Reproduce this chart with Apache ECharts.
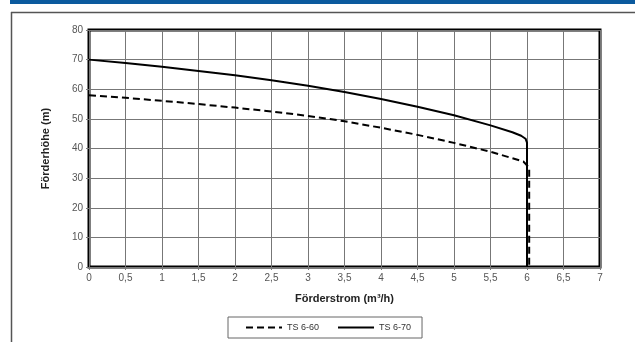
<!DOCTYPE html>
<html>
<head>
<meta charset="utf-8">
<script src="https://cdn.jsdelivr.net/npm/echarts@6/dist/echarts.min.js"></script>
<style>html,body{margin:0;padding:0;background:#fff}#c{width:635px;height:342px}</style>
</head>
<body>
<div id="c"></div>
<script>
const seriesNames = ["TS 6-60", "TS 6-70"];
const ts660X = [0, 0.5, 1, 1.5, 2, 2.5, 3, 3.5, 4, 4.5, 5, 5.5, 5.8, 5.95, 6.03, 6.03];
const ts660Y = [58, 57.1, 56.1, 55.0, 53.8, 52.5, 51.0, 49.2, 47.0, 44.6, 41.9, 38.9, 36.7, 35.6, 33.5, 0];
const ts670X = [0, 0.5, 1, 1.5, 2, 2.5, 3, 3.5, 4, 4.5, 5, 5.5, 5.8, 5.92, 5.98, 6.0, 6.0];
const ts670Y = [70, 68.9, 67.6, 66.2, 64.7, 63.0, 61.2, 59.1, 56.7, 54.1, 51.2, 47.8, 45.5, 44.3, 43.3, 42.0, 0];
const xMin = 0, xMax = 7, xStep = 0.5;
const yMin = 0, yMax = 80, yStep = 10;
const xTitle = "Förderstrom (m³/h)";
const yTitle = "Förderhöhe (m)";

const pairs = (xs, ys) => xs.map((x, i) => [x, ys[i]]);
const font = "'Liberation Sans', Arial, sans-serif";
const chart = echarts.init(document.getElementById('c'), null, {renderer: 'canvas'});
chart.setOption({
  animation: false,
  backgroundColor: '#fff',
  textStyle: {fontFamily: font},
  graphic: [
    {type: 'rect', shape: {x: 10, y: 0, width: 625, height: 4}, style: {fill: '#0b5a9e'}},
    {type: 'line', shape: {x1: 11, y1: 12.5, x2: 635, y2: 12.5}, style: {stroke: '#555', lineWidth: 1.5}},
    {type: 'line', shape: {x1: 11.5, y1: 12, x2: 11.5, y2: 342}, style: {stroke: '#555', lineWidth: 1.5}}
  ],
  grid: {left: 89, right: 35, top: 30, bottom: 75, show: true, borderColor: '#000', borderWidth: 3, backgroundColor: 'transparent'},
  legend: {
    left: 228, top: 317,
    data: seriesNames,
    itemWidth: 36, itemHeight: 10, itemGap: 18,
    padding: [6, 11, 6, 17],
    borderColor: '#666', borderWidth: 1,
    itemStyle: {opacity: 0, borderWidth: 0},
    textStyle: {fontSize: 9, color: '#333', fontFamily: font}
  },
  xAxis: {
    type: 'value', min: xMin, max: xMax, interval: xStep,
    name: xTitle, nameLocation: 'middle', nameGap: 26,
    nameTextStyle: {fontSize: 11, fontWeight: 'bold', color: '#222', fontFamily: font},
    axisLine: {show: false},
    axisTick: {show: true, length: 3, lineStyle: {color: '#777'}},
    axisLabel: {fontSize: 10, color: '#555', margin: 6, formatter: v => String(v).replace('.', ',')},
    splitLine: {show: true, lineStyle: {color: '#777', width: 1}}
  },
  yAxis: {
    type: 'value', min: yMin, max: yMax, interval: yStep,
    name: yTitle, nameLocation: 'middle', nameGap: 38,
    nameTextStyle: {fontSize: 11, fontWeight: 'bold', color: '#222', fontFamily: font},
    axisLine: {show: false},
    axisTick: {show: true, length: 3, lineStyle: {color: '#777'}},
    axisLabel: {fontSize: 10, color: '#555', margin: 6},
    splitLine: {show: true, lineStyle: {color: '#777', width: 1}}
  },
  series: [
    {name: seriesNames[0], type: 'line', data: pairs(ts660X, ts660Y), symbol: 'none',
     lineStyle: {color: '#000', width: 2, type: [7, 4]}, itemStyle: {color: '#000'}},
    {name: seriesNames[1], type: 'line', data: pairs(ts670X, ts670Y), symbol: 'none',
     lineStyle: {color: '#000', width: 2}, itemStyle: {color: '#000'}}
  ]
});
</script>
</body>
</html>
